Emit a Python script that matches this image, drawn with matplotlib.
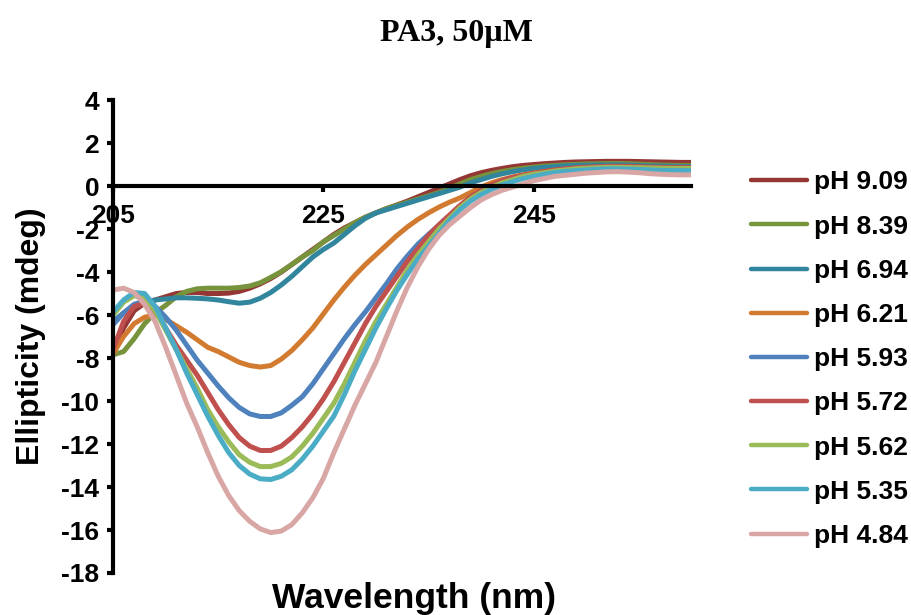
import matplotlib
matplotlib.use("Agg")
import matplotlib.pyplot as plt
import numpy as np

# wavelength grid (nm), 1 nm steps
wavelength = np.arange(205, 261)

labels = ["pH 9.09", "pH 8.39", "pH 6.94", "pH 6.21", "pH 5.93",
          "pH 5.72", "pH 5.62", "pH 5.35", "pH 4.84"]
colors = ["#943634", "#77933C", "#31859C", "#D27B30", "#4F81BD",
          "#C0504D", "#9BBB59", "#4BACC6", "#D8A7A5"]

# ellipticity (mdeg)
ph_909 = [-7.7, -6.6, -5.8, -5.45, -5.3, -5.15, -5.0, -4.95, -4.95, -5.0,
          -5.0, -4.98, -4.9, -4.75, -4.55, -4.3, -4.0, -3.65, -3.3, -2.95,
          -2.6, -2.25, -1.95, -1.7, -1.45, -1.25, -1.05, -0.88, -0.7, -0.5,
          -0.3, -0.1, 0.1, 0.3, 0.48, 0.62, 0.73, 0.82, 0.9, 0.96,
          1.0, 1.04, 1.07, 1.1, 1.12, 1.13, 1.14, 1.15, 1.15, 1.15,
          1.14, 1.13, 1.12, 1.11, 1.1, 1.1]
ph_839 = [-7.85, -7.7, -7.1, -6.4, -5.9, -5.55, -5.15, -4.9, -4.78, -4.75,
          -4.75, -4.75, -4.72, -4.65, -4.5, -4.25, -3.98, -3.65, -3.3, -3.0,
          -2.6, -2.3, -2.0, -1.7, -1.45, -1.25, -1.05, -0.9, -0.75, -0.6,
          -0.45, -0.3, -0.1, 0.1, 0.3, 0.45, 0.58, 0.68, 0.76, 0.83,
          0.88, 0.93, 0.96, 0.99, 1.01, 1.03, 1.04, 1.05, 1.05, 1.04,
          1.02, 1.0, 0.98, 0.97, 0.96, 0.96]
ph_694 = [-6.3, -5.9, -5.6, -5.4, -5.3, -5.25, -5.2, -5.2, -5.22, -5.25,
          -5.3, -5.38, -5.45, -5.4, -5.22, -4.95, -4.6, -4.2, -3.75, -3.3,
          -2.95, -2.65, -2.25, -1.85, -1.5, -1.25, -1.1, -0.95, -0.8, -0.65,
          -0.5, -0.35, -0.2, -0.05, 0.15, 0.3, 0.45, 0.57, 0.67, 0.75,
          0.82, 0.87, 0.91, 0.94, 0.96, 0.97, 0.98, 0.99, 0.99, 0.98,
          0.96, 0.94, 0.93, 0.92, 0.91, 0.91]
ph_621 = [-7.8, -7.0, -6.4, -6.1, -6.0, -6.2, -6.5, -6.8, -7.15, -7.5,
          -7.7, -7.95, -8.2, -8.35, -8.42, -8.35, -8.05, -7.65, -7.15, -6.6,
          -5.95, -5.3, -4.7, -4.15, -3.65, -3.2, -2.75, -2.3, -1.9, -1.55,
          -1.25, -0.98, -0.75, -0.55, -0.3, -0.05, 0.15, 0.3, 0.42, 0.52,
          0.6, 0.67, 0.73, 0.78, 0.82, 0.85, 0.87, 0.88, 0.88, 0.88,
          0.87, 0.86, 0.85, 0.85, 0.84, 0.84]
ph_593 = [-6.45, -5.9, -5.5, -5.35, -5.6, -6.1, -6.7, -7.4, -8.1, -8.7,
          -9.3, -9.85, -10.3, -10.6, -10.72, -10.72, -10.55, -10.2, -9.8, -9.2,
          -8.5, -7.8, -7.1, -6.45, -5.85, -5.2, -4.55, -3.85, -3.25, -2.7,
          -2.25, -1.82, -1.4, -0.95, -0.55, -0.25, 0.0, 0.2, 0.35, 0.47,
          0.57, 0.65, 0.72, 0.78, 0.82, 0.85, 0.87, 0.88, 0.88, 0.87,
          0.85, 0.83, 0.82, 0.81, 0.8, 0.8]
ph_572 = [-7.6, -6.3, -5.6, -5.45, -5.8, -6.6, -7.4, -8.1, -8.8, -9.6,
          -10.4, -11.1, -11.7, -12.1, -12.3, -12.3, -12.1, -11.7, -11.2, -10.6,
          -9.9, -9.1, -8.2, -7.3, -6.4, -5.6, -4.9, -4.2, -3.5, -2.9,
          -2.3, -1.8, -1.35, -0.9, -0.5, -0.2, 0.05, 0.25, 0.4, 0.5,
          0.6, 0.68, 0.75, 0.8, 0.85, 0.88, 0.9, 0.92, 0.92, 0.92,
          0.9, 0.88, 0.87, 0.86, 0.86, 0.86]
ph_562 = [-6.0, -5.4, -5.1, -5.2, -5.8, -6.7, -7.6, -8.5, -9.4, -10.4,
          -11.2, -11.9, -12.5, -12.85, -13.05, -13.05, -12.9, -12.6, -12.1, -11.5,
          -10.8, -10.1, -9.2, -8.2, -7.2, -6.3, -5.5, -4.7, -3.9, -3.2,
          -2.6, -2.0, -1.5, -1.0, -0.6, -0.3, -0.05, 0.15, 0.3, 0.45,
          0.55, 0.62, 0.7, 0.75, 0.8, 0.83, 0.85, 0.87, 0.87, 0.86,
          0.85, 0.84, 0.83, 0.82, 0.82, 0.82]
ph_535 = [-5.85, -5.3, -4.95, -5.0, -5.6, -6.6, -7.6, -8.7, -9.7, -10.7,
          -11.6, -12.4, -13.0, -13.4, -13.62, -13.65, -13.5, -13.2, -12.7, -12.1,
          -11.4, -10.7, -9.7, -8.6, -7.6, -6.6, -5.7, -4.85, -4.1, -3.4,
          -2.8, -2.2, -1.6, -1.1, -0.7, -0.4, -0.15, 0.05, 0.2, 0.35,
          0.45, 0.55, 0.62, 0.68, 0.72, 0.75, 0.78, 0.8, 0.8, 0.79,
          0.77, 0.75, 0.73, 0.72, 0.72, 0.72]
ph_484 = [-4.84, -4.75, -4.95, -5.5, -6.3, -7.5, -8.8, -10.1, -11.2, -12.4,
          -13.5, -14.4, -15.1, -15.6, -15.95, -16.12, -16.05, -15.75, -15.2, -14.5,
          -13.6, -12.4, -11.3, -10.2, -9.2, -8.2, -7.0, -5.8, -4.7, -3.75,
          -2.95, -2.3, -1.8, -1.4, -1.0, -0.65, -0.4, -0.2, -0.05, 0.1,
          0.25, 0.35, 0.45, 0.5, 0.55, 0.6, 0.63, 0.66, 0.67, 0.65,
          0.62, 0.58, 0.55, 0.53, 0.52, 0.52]

series = [ph_909, ph_839, ph_694, ph_621, ph_593, ph_572, ph_562, ph_535, ph_484]

plt.rcParams["font.family"] = ["Liberation Sans", "DejaVu Sans"]
plt.rcParams["font.weight"] = "bold"
plt.rcParams["axes.unicode_minus"] = False

fig = plt.figure(figsize=(9.12, 6.15), dpi=100)
ax = fig.add_axes([0.124, 0.0683, 0.634, 0.769])

for vals, lab, col in zip(series, labels, colors):
    ax.plot(wavelength, vals, color=col, lw=3.6, label=lab,
            solid_capstyle="round", solid_joinstyle="round")

ax.set_xlim(205, 260)
ax.set_ylim(-18, 4)
ax.set_xticks([205, 225, 245])
ax.set_yticks(np.arange(-18, 5, 2))

# axes: y at left, x crosses at zero
ax.spines["top"].set_visible(False)
ax.spines["right"].set_visible(False)
ax.spines["bottom"].set_position(("data", 0))
ax.spines["left"].set_linewidth(3)
ax.spines["bottom"].set_linewidth(3)
ax.spines["left"].set_zorder(5)
ax.spines["bottom"].set_zorder(5)
ax.tick_params(axis="both", direction="out", length=4, width=3, labelsize=19)
ax.tick_params(axis="x", pad=9)
ax.tick_params(axis="y", pad=6)

ax.set_xlabel("Wavelength (nm)", fontsize=25.5, fontweight="bold")
ax.xaxis.set_label_coords(0.52, -0.02)
ax.set_ylabel("Ellipticity (mdeg)", fontsize=23, fontweight="bold")
ax.yaxis.set_label_coords(-0.116, 0.5)

fig.text(0.5, 0.945, "PA3, 50µM", ha="center", va="center", fontsize=23,
         fontweight="bold", family="Liberation Serif")

leg = fig.legend(loc="center left", bbox_to_anchor=(0.824, 0.416), frameon=False,
                 fontsize=19, handlelength=2.1, handletextpad=0.25,
                 labelspacing=0.765, borderpad=0, borderaxespad=0)
for h in leg.get_lines():
    h.set_linewidth(3.2)

fig.savefig("out.png", dpi=100)
